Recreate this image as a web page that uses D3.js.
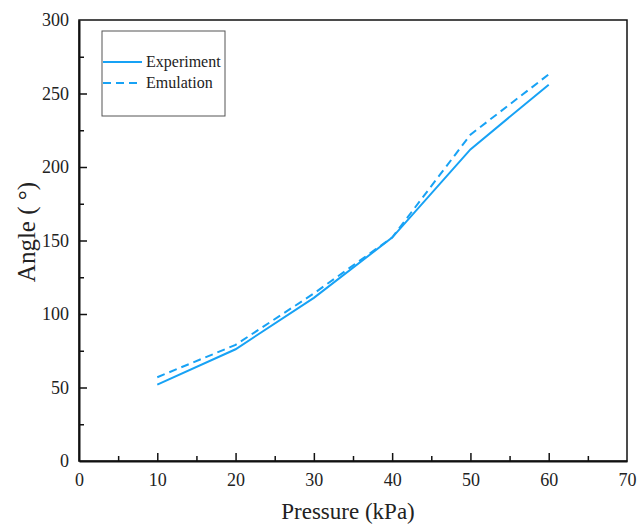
<!DOCTYPE html>
<html>
<head>
<meta charset="utf-8">
<script src="https://cdn.jsdelivr.net/npm/d3@7"></script>
<style>
  body { margin: 0; background: #fff; }
  text { font-family: "Liberation Serif", "Times New Roman", serif; fill: #222; }
</style>
</head>
<body>
<svg id="chart" width="644" height="524"></svg>
<script>
// pressure values (kPa)
var pressure = [10, 20, 30, 40, 50, 60];
// angle values
var experiment = [52, 76, 111, 152, 212, 256];
var emulation = [57, 79, 114, 152, 222, 263];
var xTicks = [0, 10, 20, 30, 40, 50, 60, 70];
var yTicks = [0, 50, 100, 150, 200, 250, 300];
var seriesNames = ["Experiment", "Emulation"];

var svg = d3.select("#chart");
var plotL = 79, plotR = 627, plotT = 20, plotB = 461;
var blue = "#17a2f5";

var x = d3.scaleLinear().domain([0, 70]).range([plotL, plotR]);
var y = d3.scaleLinear().domain([0, 300]).range([plotB, plotT]);

// frame
svg.append("rect")
   .attr("x", plotL).attr("y", plotT)
   .attr("width", plotR - plotL).attr("height", plotB - plotT)
   .attr("fill", "none").attr("stroke", "#111").attr("stroke-width", 1.5);

// bottom axis, ticks pointing inward
var xAxis = svg.append("g").attr("transform", "translate(0," + plotB + ")")
   .call(d3.axisBottom(x).tickValues(xTicks).tickSize(-8).tickPadding(16).tickSizeOuter(0));
xAxis.selectAll(".tick").filter(function(d){ return d == 0 || d == 70; }).select("line").remove();
svg.append("g").attr("transform", "translate(0," + plotB + ")")
   .call(d3.axisBottom(x).tickValues(d3.range(5, 70, 10)).tickSize(-5).tickFormat("").tickSizeOuter(0))
   .select(".domain").remove();

var yAxis = svg.append("g").attr("transform", "translate(" + plotL + ",0)")
   .call(d3.axisLeft(y).tickValues(yTicks).tickSize(-8).tickPadding(10).tickSizeOuter(0));
yAxis.selectAll(".tick").filter(function(d){ return d == 0 || d == 300; }).select("line").remove();
svg.append("g").attr("transform", "translate(" + plotL + ",0)")
   .call(d3.axisLeft(y).tickValues(d3.range(25, 300, 50)).tickSize(-5).tickFormat("").tickSizeOuter(0))
   .select(".domain").remove();

svg.selectAll(".domain").attr("stroke", "#111").attr("stroke-width", 2);
svg.selectAll(".tick line").attr("stroke", "#111").attr("stroke-width", 1.5);
svg.selectAll(".tick text")
   .style("font-family", "'Liberation Serif', serif").style("font-size", "18px").attr("fill", "#222");
xAxis.selectAll(".tick text").attr("dy", "0.5em");

// axis titles
svg.append("text")
   .attr("x", 348).attr("y", 519)
   .attr("text-anchor", "middle").style("font-size", "23px")
   .text("Pressure (kPa)");
svg.append("text")
   .attr("transform", "translate(35,232) rotate(-90)")
   .attr("text-anchor", "middle").style("font-size", "25px")
   .text("Angle ( °)");

// series lines
var line = d3.line().x(function(d){ return x(d[0]); }).y(function(d){ return y(d[1]); });

svg.append("path")
   .datum(d3.zip(pressure, experiment))
   .attr("d", line)
   .attr("fill", "none").attr("stroke", blue).attr("stroke-width", 2);

svg.append("path")
   .datum(d3.zip(pressure, emulation))
   .attr("d", line)
   .attr("fill", "none").attr("stroke", blue).attr("stroke-width", 2)
   .attr("stroke-dasharray", "8,5");

// legend
var lg = svg.append("g");
lg.append("rect")
  .attr("x", 102).attr("y", 31).attr("width", 123).attr("height", 85)
  .attr("fill", "#fff").attr("stroke", "#555").attr("stroke-width", 1);
seriesNames.forEach(function(name, i) {
  var ly = 62 + i * 21;
  lg.append("line")
    .attr("x1", 103).attr("x2", 142).attr("y1", ly).attr("y2", ly)
    .attr("stroke", blue).attr("stroke-width", 2)
    .attr("stroke-dasharray", i == 1 ? "8,5" : null);
  lg.append("text")
    .attr("x", 146).attr("y", ly + 5)
    .style("font-size", "16px")
    .text(name);
});
</script>
</body>
</html>
